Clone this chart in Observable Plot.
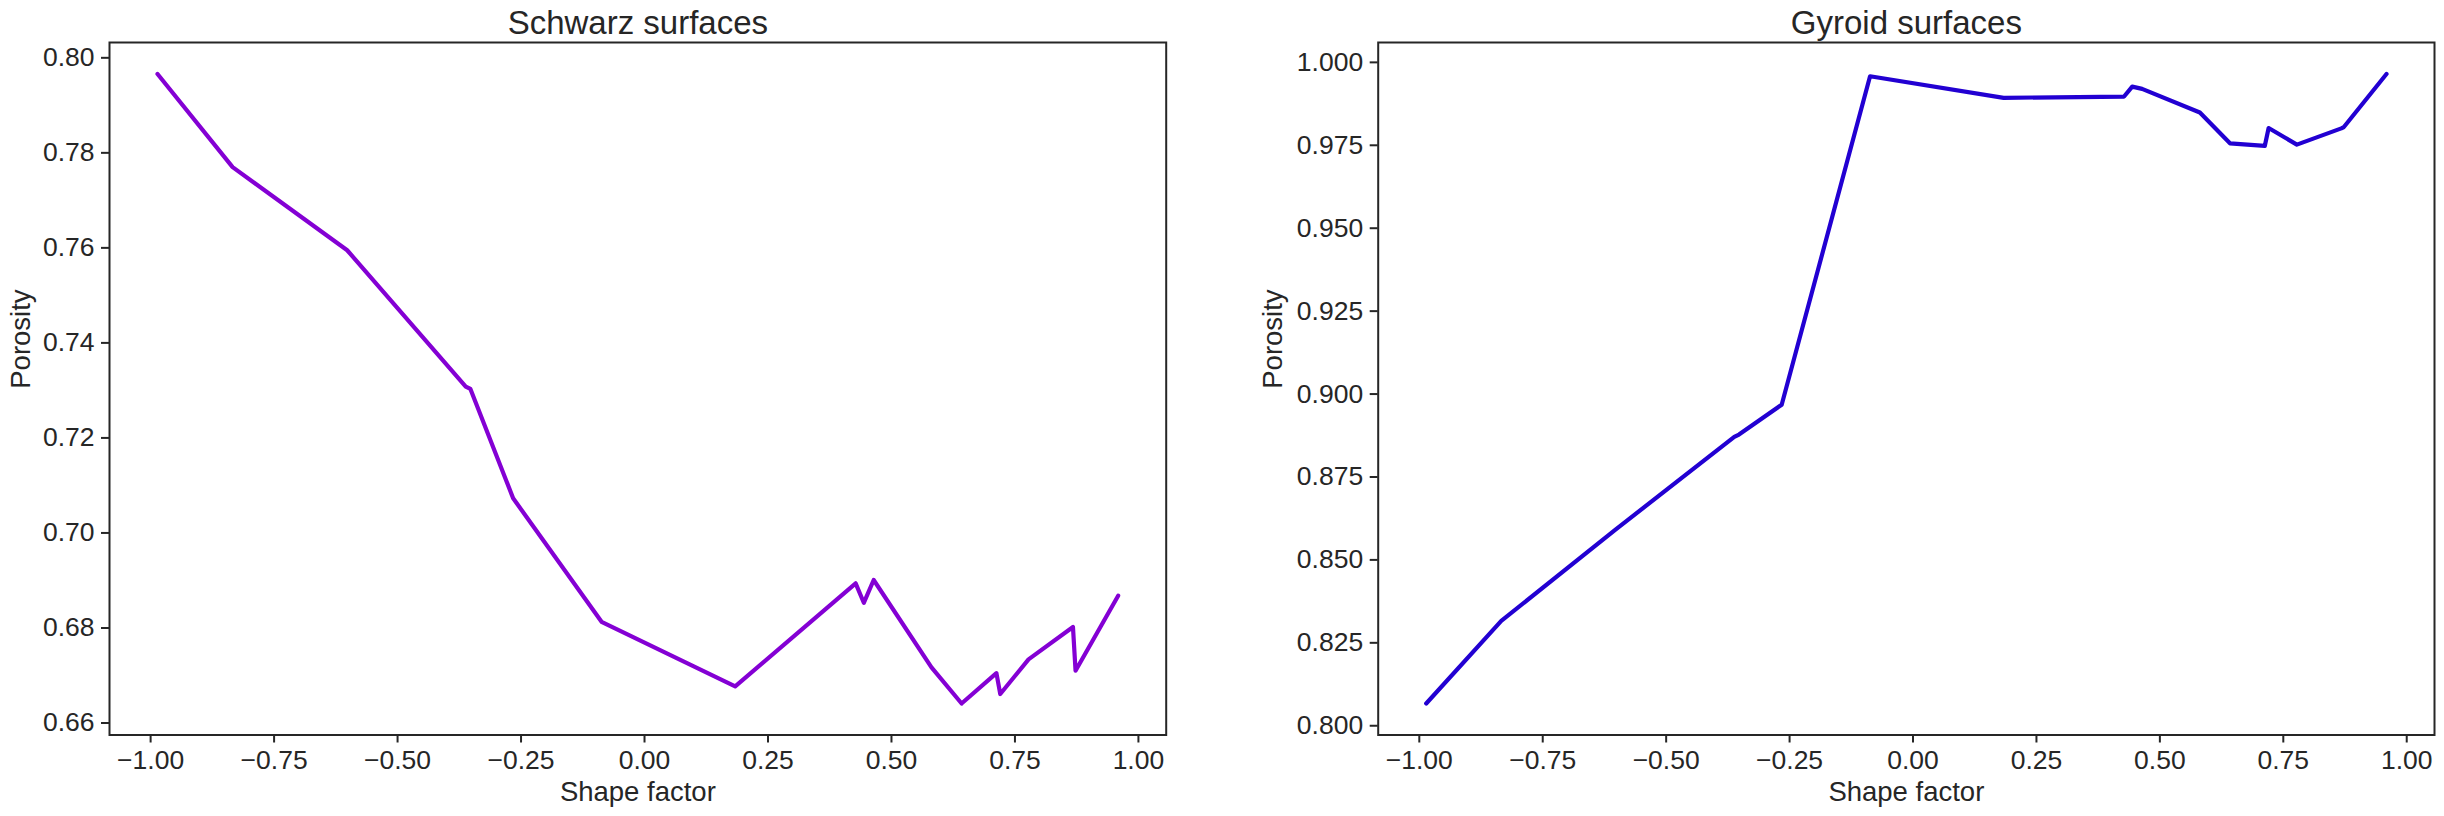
<!DOCTYPE html>
<html><head><meta charset="utf-8">
<script src="https://cdn.jsdelivr.net/npm/d3@7"></script>
<script src="https://cdn.jsdelivr.net/npm/@observablehq/plot@0.6"></script>
<style>
html,body{margin:0;padding:0;background:#fff;}
#c{display:flex;width:2444px;height:816px;overflow:hidden;}
#c svg{display:block;flex:none;}
</style>
</head><body><div id="c"></div>
<script>
// Shape factor (shared x values)
const shapeFactor = [-0.986, -0.834, -0.602, -0.362, -0.3525, -0.266, -0.087, 0.1836, 0.4275, 0.444, 0.464, 0.581, 0.642, 0.7125, 0.7203, 0.7775, 0.8675, 0.8727, 0.959];
// Porosity of Schwarz surfaces
const schwarzPorosity = [0.7966, 0.7770, 0.7595, 0.7308, 0.7303, 0.7073, 0.6813, 0.6677, 0.6894, 0.6853, 0.6901, 0.6717, 0.6641, 0.6705, 0.6661, 0.6734, 0.6802, 0.6710, 0.6868];
// Porosity of Gyroid surfaces
const gyroidPorosity = [0.8067, 0.8316, 0.8592, 0.8871, 0.8878, 0.8968, 0.9958, 0.9893, 0.9897, 0.9927, 0.9920, 0.9849, 0.9756, 0.9748, 0.9802, 0.9752, 0.9801, 0.9805, 0.9965];

const xTicks = [-1.00, -0.75, -0.50, -0.25, 0.00, 0.25, 0.50, 0.75, 1.00];
const schwarzTicks = [0.66, 0.68, 0.70, 0.72, 0.74, 0.76, 0.78, 0.80];
const gyroidTicks = [0.800, 0.825, 0.850, 0.875, 0.900, 0.925, 0.950, 0.975, 1.000];

const titles = ["Schwarz surfaces", "Gyroid surfaces"];
const xLabel = "Shape factor";
const yLabel = "Porosity";

const INK = "#262626";
const FONT = "'Liberation Sans', Arial, Helvetica, sans-serif";

function padded(vals) {
  const lo = d3.min(vals), hi = d3.max(vals), r = hi - lo;
  return [lo - 0.05 * r, hi + 0.05 * r];
}

function panel({title, values, color, yTicks, yFormat, width, marginLeft, marginRight, ylabelDx}) {
  const data = shapeFactor.map((x, i) => ({x, y: values[i]}));
  return Plot.plot({
    width, height: 816,
    marginLeft, marginRight, marginTop: 42, marginBottom: 81.5,
    style: {fontFamily: FONT, color: INK, background: "#fff", overflow: "visible"},
    x: {domain: padded(shapeFactor)},
    y: {domain: padded(values)},
    marks: [
      Plot.line(data, {x: "x", y: "y", stroke: color, strokeWidth: 4.2}),
      Plot.frame({stroke: INK, strokeWidth: 2}),
      Plot.axisX({ticks: xTicks, tickFormat: d3.format(".2f"), tickSize: 8, tickPadding: 7, fontSize: 26.5, strokeWidth: 2, label: null}),
      Plot.axisY({ticks: yTicks, tickFormat: d3.format(yFormat), tickSize: 8, tickPadding: 7, fontSize: 26.5, strokeWidth: 2, label: null}),
      Plot.text([title], {frameAnchor: "top", text: d => d, lineAnchor: "bottom", dy: -9, fontSize: 33, fill: INK}),
      Plot.text([xLabel], {frameAnchor: "bottom", text: d => d, lineAnchor: "bottom", dy: 65.5, fontSize: 27.5, fill: INK}),
      Plot.text([yLabel], {frameAnchor: "left", text: d => d, rotate: -90, lineAnchor: "bottom", dx: ylabelDx, fontSize: 27.5, fill: INK})
    ]
  });
}

const c = document.getElementById("c");
c.append(panel({title: titles[0], values: schwarzPorosity, color: "#8400d4", yTicks: schwarzTicks, yFormat: ".2f", width: 1222, marginLeft: 109, marginRight: 56.3, ylabelDx: -80}));
c.append(panel({title: titles[1], values: gyroidPorosity, color: "#2200d2", yTicks: gyroidTicks, yFormat: ".3f", width: 1222, marginLeft: 155.7, marginRight: 10, ylabelDx: -96}));
</script>
</body></html>
